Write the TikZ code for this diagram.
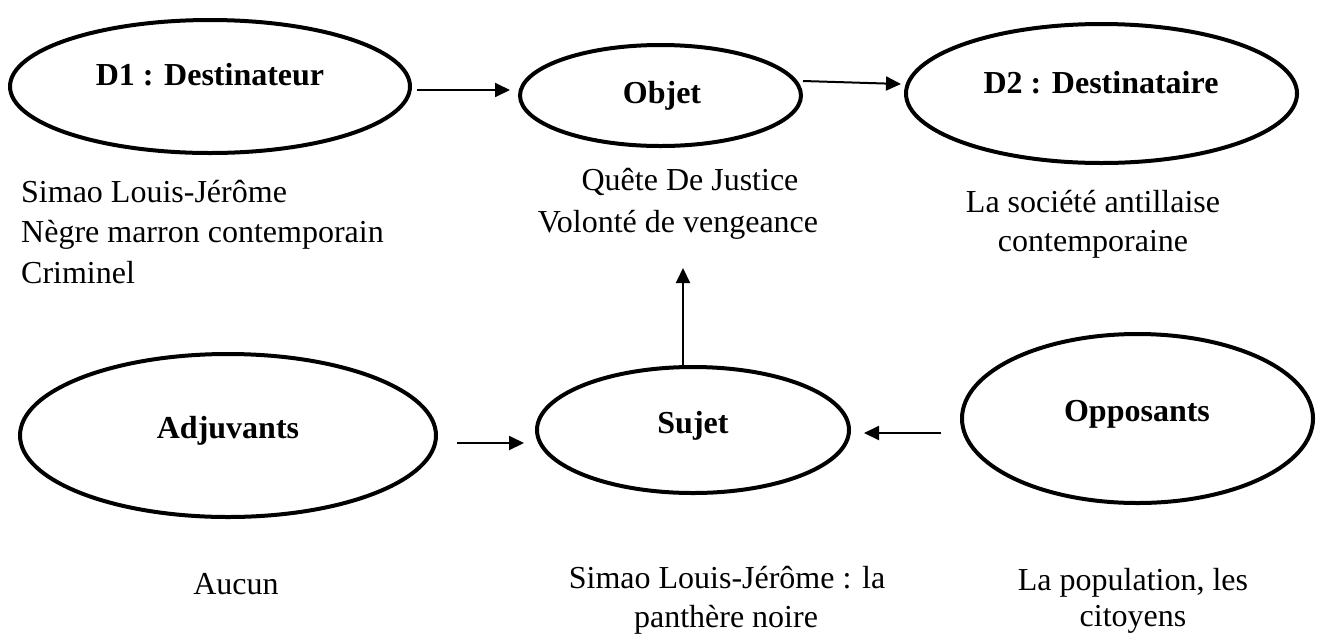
\documentclass[tikz,border=0pt]{standalone}
\usepackage{fontspec}
\setmainfont{Liberation Serif}
\usetikzlibrary{shapes.geometric,arrows.meta}
\begin{document}
\begin{tikzpicture}[x=1pt,y=-1pt,
  ell/.style={draw,ellipse,line width=4pt,inner sep=0pt},
  lab/.style={font=\fontsize{32}{40}\selectfont\bfseries,anchor=base,inner sep=0pt},
  desc/.style={font=\fontsize{32}{40}\selectfont,anchor=base,inner sep=0pt},
  descl/.style={desc,anchor=base west},
  arr/.style={line width=2pt,-{Triangle[length=15pt,width=14pt]}}]
\useasboundingbox (0,0) rectangle (1319,633);
% ellipses
\node[ell,minimum width=400pt,minimum height=133pt] (d1) at (210,86.5) {};
\node[ell,minimum width=281pt,minimum height=101pt] (objet) at (660.5,95.5) {};
\node[ell,minimum width=391pt,minimum height=139pt] (d2) at (1101.5,93.5) {};
\node[ell,minimum width=416pt,minimum height=163pt] (adj) at (228,435.5) {};
\node[ell,minimum width=312pt,minimum height=126pt] (sujet) at (693,430) {};
\node[ell,minimum width=351pt,minimum height=169pt] (opp) at (1137.5,418.5) {};
% labels
\node[lab] (d1t) at (210,85) {D1 : Destinateur};
\node[lab] (objett) at (662,103) {Objet};
\node[lab] (d2t) at (1101,93) {D2 : Destinataire};
\node[lab] (adjt) at (228,438) {Adjuvants};
\node[lab] (sujett) at (693,433) {Sujet};
\node[lab] (oppt) at (1137,421) {Opposants};
% descriptions
\node[descl] (d1a) at (21,202) {Simao Louis-Jérôme};
\node[descl] (d1b) at (21,242.5) {Nègre marron contemporain};
\node[descl] (d1c) at (21,283) {Criminel};
\node[desc] (oba) at (690,190) {Quête De Justice};
\node[desc] (obb) at (678,232) {Volonté de vengeance};
\node[desc] (d2a) at (1093,212) {La société antillaise};
\node[desc] (d2b) at (1093,251) {contemporaine};
\node[desc] (adja) at (236,594) {Aucun};
\node[desc] (sua) at (727,588) {Simao Louis-Jérôme : la};
\node[desc] (sub) at (726,627) {panthère noire};
\node[desc] (oppa) at (1133,590) {La population, les};
\node[desc] (oppb) at (1133,626) {citoyens};
% arrows
\coordinate (a1s) at (417,90);
\coordinate (a1e) at (510,90);
\draw[arr] (a1s) -- (a1e);
\coordinate (a2s) at (803,81);
\coordinate (a2e) at (901,84);
\draw[arr] (a2s) -- (a2e);
\coordinate (a3e) at (683,268);
\draw[arr] (sujet.north -| a3e) -- (a3e);
\coordinate (a4s) at (457,443);
\coordinate (a4e) at (524,443);
\draw[arr] (a4s) -- (a4e);
\coordinate (a5s) at (941,433);
\coordinate (a5e) at (864,433);
\draw[arr] (a5s) -- (a5e);
\end{tikzpicture}
\end{document}
